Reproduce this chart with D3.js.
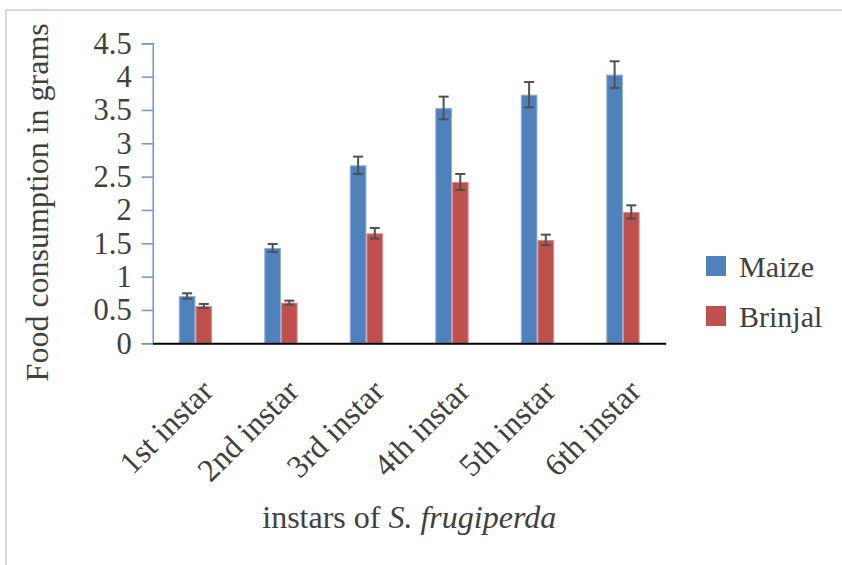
<!DOCTYPE html>
<html>
<head>
<meta charset="utf-8">
<script src="https://cdn.jsdelivr.net/npm/d3@7"></script>
<style>
  html, body { margin: 0; padding: 0; background: #fff; }
  svg { display: block; }
  text { font-family: "Liberation Serif", "Times New Roman", serif; fill: #404040; }
</style>
</head>
<body>
<svg id="chart" width="842" height="565"></svg>
<script>
const categories = ["1st instar", "2nd instar", "3rd instar", "4th instar", "5th instar", "6th instar"];
const seriesNames = ["Maize", "Brinjal"];
const maize = [0.71, 1.43, 2.67, 3.53, 3.73, 4.03];
const brinjal = [0.56, 0.61, 1.65, 2.42, 1.55, 1.97];
const maizeErr = [0.04, 0.06, 0.13, 0.17, 0.19, 0.20];
const brinjalErr = [0.03, 0.03, 0.08, 0.12, 0.08, 0.10];
const yTicks = [0, 0.5, 1, 1.5, 2, 2.5, 3, 3.5, 4, 4.5];
const colors = ["#4F81BD", "#C0504D"];
const edgeColors = ["#8fb0d8", "#d88d8b"];

const svg = d3.select("#chart");
const pLeft = 152.7, pRight = 665.7, pTop = 43.3, pBottom = 343.3;

// frame
svg.append("path").attr("d", "M6,565 V10 H842").attr("fill", "none").attr("stroke", "#d9d9d9").attr("stroke-width", 2);

const y = d3.scaleLinear().domain([0, 4.5]).range([pBottom, pTop]);
const x0 = d3.scaleBand().domain(categories).range([pLeft, pRight]).paddingInner(0.61).paddingOuter(0.305);
const x1 = d3.scaleBand().domain(seriesNames).range([0, x0.bandwidth()]);

const data = categories.map((c, i) => ({
  cat: c,
  vals: [
    { s: "Maize", v: maize[i], e: maizeErr[i], c: colors[0], ec: edgeColors[0] },
    { s: "Brinjal", v: brinjal[i], e: brinjalErr[i], c: colors[1], ec: edgeColors[1] }
  ]
}));

// y axis
const yAxis = d3.axisLeft(y).tickValues(yTicks).tickSize(11).tickPadding(10).tickFormat(d => String(d));
const gy = svg.append("g").attr("transform", `translate(${pLeft},0)`).call(yAxis);
gy.select(".domain").attr("stroke", "#6d97cc").attr("stroke-width", 1.5);
gy.selectAll(".tick line").attr("stroke", "#6d97cc").attr("stroke-width", 1.5);
gy.selectAll(".tick text").attr("font-size", 30.5).attr("font-family", "Liberation Serif").attr("fill", "#404040");

// bars
const groups = svg.append("g").selectAll("g").data(data).join("g")
  .attr("transform", d => `translate(${x0(d.cat)},0)`);
groups.selectAll("rect").data(d => d.vals).join("rect")
  .attr("x", d => x1(d.s) + 0.5)
  .attr("y", d => y(d.v) + 0.5)
  .attr("width", x1.bandwidth() - 1)
  .attr("height", d => y(0) - y(d.v) - 0.5)
  .attr("fill", d => d.c)
  .attr("stroke", d => d.ec)
  .attr("stroke-width", 1);

// error bars
const eb = groups.selectAll("g.err").data(d => d.vals).join("g").attr("class", "err");
eb.append("line")
  .attr("x1", d => x1(d.s) + x1.bandwidth() / 2).attr("x2", d => x1(d.s) + x1.bandwidth() / 2)
  .attr("y1", d => y(d.v + d.e)).attr("y2", d => y(d.v - d.e));
eb.append("line")
  .attr("x1", d => x1(d.s) + x1.bandwidth() / 2 - 5).attr("x2", d => x1(d.s) + x1.bandwidth() / 2 + 5)
  .attr("y1", d => y(d.v + d.e)).attr("y2", d => y(d.v + d.e));
eb.append("line")
  .attr("x1", d => x1(d.s) + x1.bandwidth() / 2 - 5).attr("x2", d => x1(d.s) + x1.bandwidth() / 2 + 5)
  .attr("y1", d => y(d.v - d.e)).attr("y2", d => y(d.v - d.e));
eb.selectAll("line").attr("stroke", "#505050").attr("stroke-width", 2);

// x axis line
const xAxis = d3.axisBottom(x0).tickSize(0).tickFormat("");
const gx = svg.append("g").attr("transform", `translate(0,${pBottom})`).call(xAxis);
gx.select(".domain").attr("stroke", "#000").attr("stroke-width", 2);

// x labels rotated
svg.append("g").selectAll("text").data(categories).join("text")
  .attr("transform", d => `translate(${x0(d) + x0.bandwidth() / 2 + 19.5},${pBottom + 50}) rotate(-45)`)
  .attr("text-anchor", "end")
  .attr("font-size", 32)
  .text(d => d);

// axis titles
svg.append("text")
  .attr("transform", `translate(48,${(pTop + pBottom) / 2 + 9}) rotate(-90)`)
  .attr("text-anchor", "middle")
  .attr("font-size", 32)
  .text("Food consumption in grams");

const xt = svg.append("text")
  .attr("x", (pLeft + pRight) / 2)
  .attr("y", 528)
  .attr("text-anchor", "middle")
  .attr("font-size", 32);
xt.append("tspan").text("instars of ");
xt.append("tspan").attr("font-style", "italic").text("S. frugiperda");

// legend
const lg = svg.append("g").selectAll("g").data(seriesNames).join("g")
  .attr("transform", (d, i) => `translate(706,${256 + i * 50})`);
lg.append("rect").attr("width", 20).attr("height", 20).attr("fill", (d, i) => colors[i]);
lg.append("text").attr("x", 33).attr("y", 21).attr("font-size", 30).text(d => d);
</script>
</body>
</html>
